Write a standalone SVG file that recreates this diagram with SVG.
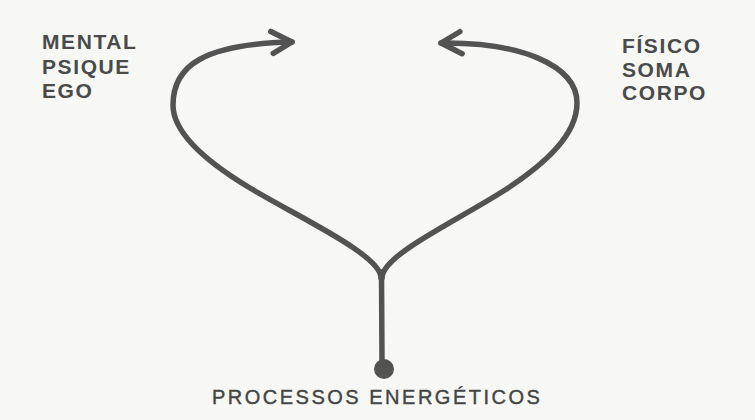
<svg xmlns="http://www.w3.org/2000/svg" width="755" height="420" viewBox="0 0 755 420">
  <style>
    .lbl { font-family: "Liberation Sans", Arial, sans-serif; font-weight: bold; font-size: 21px; letter-spacing: 1.6px; fill: #4a4a4a; }
    .base { font-family: "Liberation Sans", Arial, sans-serif; font-size: 20px; letter-spacing: 2.5px; fill: #454545; stroke: #454545; stroke-width: 0.4; }
    .flow { fill: none; stroke: #535353; stroke-width: 5.5; stroke-linecap: round; }
  </style>
  <defs>
    <marker id="arrow" markerUnits="userSpaceOnUse" markerWidth="40" markerHeight="40" refX="0" refY="0" orient="auto" overflow="visible">
      <path d="M -21 -11 L 0 0 L -19 11" fill="none" stroke="#535353" stroke-width="5.5" stroke-linecap="round" stroke-linejoin="round"/>
    </marker>
  </defs>
  <rect width="755" height="420" fill="#f7f7f6"/>

  <g id="connectors">
    <path class="flow" d="M 381 278 C 381 255, 300 218, 250 188 C 210 164, 173 135, 173 105 C 173 65, 205 44, 292 42" marker-end="url(#arrow)"/>
    <path class="flow" d="M 382 278 C 382 255, 455 222, 505 190 C 545 164, 577 135, 577 103 C 577 65, 520 42, 441 43" marker-end="url(#arrow)"/>
    <path class="flow" d="M 381.5 272 L 382 362"/>
  </g>

  <g id="source">
    <circle cx="384" cy="369" r="10" fill="#535353"/>
    <text class="base" x="212" y="404">PROCESSOS ENERGÉTICOS</text>
  </g>

  <g id="mental">
    <text class="lbl" x="42" y="49">MENTAL</text>
    <text class="lbl" x="42" y="74">PSIQUE</text>
    <text class="lbl" x="42" y="98">EGO</text>
  </g>

  <g id="fisico">
    <text class="lbl" x="622" y="53">FÍSICO</text>
    <text class="lbl" x="622" y="77">SOMA</text>
    <text class="lbl" x="622" y="100">CORPO</text>
  </g>
</svg>
